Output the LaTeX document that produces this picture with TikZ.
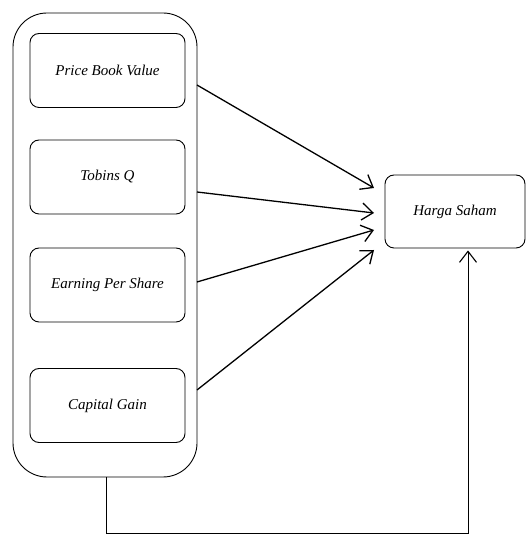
\documentclass[tikz,border=0pt]{standalone}
\usepackage{fontspec}
\setmainfont{Liberation Serif}
\usetikzlibrary{arrows.meta}
\begin{document}
\begin{tikzpicture}[x=1pt,y=1pt,
  inbox/.style={draw,line width=0.9pt,rounded corners=9pt,minimum width=155pt,minimum height=74pt,font=\rmfamily\itshape\fontsize{15}{17}\selectfont,inner sep=0pt},
  outbox/.style={draw,line width=0.9pt,rounded corners=34pt,minimum width=184pt,minimum height=464pt,inner sep=0pt},
  conn/.style={line width=1.3pt,-{Straight Barb[length=11pt,width=17pt,line width=1.3pt]}},
  conn2/.style={line width=0.9pt,-{Straight Barb[length=11pt,width=17pt,line width=1.1pt]}}]
\useasboundingbox (0,0) rectangle (527,535);
\node[outbox] (outer) at (105,290) {};
\node[inbox] (pbv) at (107.5,464.5) {Price Book Value};
\node[inbox] (tq) at (107.5,358) {Tobins Q};
\node[inbox] (eps) at (107.5,250) {Earning Per Share};
\node[inbox] (cg) at (107.5,129.5) {Capital Gain};
\node[inbox,minimum width=140pt,minimum height=73pt] (hs) at (455,323.5) {Harga Saham};
\coordinate (s1) at (197,450);
\coordinate (s2) at (197,343);
\coordinate (s3) at (197,253);
\coordinate (s4) at (197,145);
\coordinate (t1) at (374,347);
\coordinate (t2) at (374,322);
\coordinate (t3) at (374,305);
\coordinate (t4) at (374,285);
\draw[conn] (s1) -- (t1);
\draw[conn] (s2) -- (t2);
\draw[conn] (s3) -- (t3);
\draw[conn] (s4) -- (t4);
\coordinate (b1) at (106,2);
\coordinate (b2) at (468,2);
\draw[conn2] (outer.south -| b1) -- (b1) -- (b2) -- ([yshift=-2pt]hs.south -| b2);
\end{tikzpicture}
\end{document}
